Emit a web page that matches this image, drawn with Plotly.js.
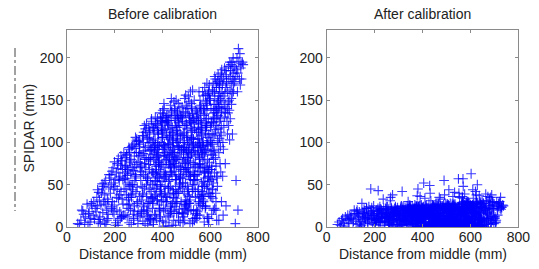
<!DOCTYPE html>
<html><head><meta charset="utf-8">
<script src="https://cdn.plot.ly/plotly-3.0.1.min.js"></script>
<style>html,body{margin:0;padding:0;background:#fff}#chart{width:539px;height:269px}</style>
</head><body><div id="chart"></div>
<script>
// Distance from middle (mm) of each sample (shared by both panels)
const distance = [
45,62,78,93,105,58,88,112,70,100,
118,52,84,96,110,66,115,74,102,90,
125,138,152,166,178,131,145,160,172,128,
142,156,169,135,149,163,176,122,158,147,
133,171,127,154,140,175,162,136,150,167,
184,197,211,226,238,190,204,219,232,186,
201,215,229,193,208,222,235,182,213,226,
195,209,224,239,188,203,217,231,199,236,
207,220,185,228,192,214,234,198,223,210,
243,258,271,286,298,249,264,279,292,255,
268,283,246,261,276,290,252,267,281,296,
247,262,277,291,254,269,284,299,259,273,
288,244,257,272,285,250,265,280,294,241,
263,278,293,248,260,275,289,253,270,282,
297,256,266,287,245,274,295,251,283,261,
304,318,331,345,358,310,324,337,351,307,
321,335,348,302,315,328,342,355,312,339,
326,341,353,308,320,333,347,359,316,330,
344,305,319,332,346,357,313,327,340,352,
309,323,336,350,303,317,329,343,356,322,
338,311,325,349,301,334,354,314,346,329,
306,336,318,343,357,324,311,348,333,319,
364,378,391,405,418,370,384,397,411,367,
381,395,408,362,375,388,402,415,372,399,
386,401,413,368,380,393,407,419,376,390,
404,365,379,392,406,417,373,387,400,412,
369,383,396,410,363,377,389,403,416,382,
398,371,385,409,361,394,414,374,406,389,
366,396,378,403,417,384,371,408,393,379,
411,387,363,399,375,414,392,368,405,381,
374,401,386,365,410,395,380,416,370,398,
424,438,451,465,478,430,444,457,471,427,
441,455,468,422,435,448,462,475,432,459,
446,461,473,428,440,453,467,479,436,450,
464,425,439,452,466,477,433,447,460,472,
429,443,456,470,423,437,449,463,476,442,
458,431,445,469,421,454,474,434,466,449,
426,456,438,463,477,444,431,468,453,439,
471,447,423,459,435,474,452,428,465,441,
434,461,446,425,470,455,440,476,430,458,
448,436,462,427,473,443,457,433,467,451,
484,498,511,525,538,490,504,517,531,487,
501,515,528,482,495,508,522,535,492,519,
506,521,533,488,500,513,527,539,496,510,
524,485,499,512,526,537,493,507,520,532,
489,503,516,530,483,497,509,523,536,502,
518,491,505,529,481,514,534,494,526,509,
486,516,498,523,537,504,491,528,513,499,
531,507,483,519,495,534,512,488,525,501,
494,521,506,485,530,515,500,536,490,518,
508,496,522,487,533,503,517,493,527,511,
544,558,571,585,598,550,564,577,591,547,
561,575,588,542,555,568,582,595,552,579,
566,581,593,548,560,573,587,599,556,570,
584,545,559,572,586,597,553,567,580,592,
549,563,576,590,543,557,569,583,596,562,
578,551,565,589,541,574,594,554,586,569,
546,576,558,583,597,564,551,588,573,559,
591,567,543,579,555,594,572,548,585,561,
554,581,566,545,590,575,560,596,550,578,
568,556,582,547,593,563,577,553,587,571,
603,614,626,638,648,608,620,632,643,606,
617,629,640,602,612,624,635,646,610,631,
622,634,645,605,616,627,639,649,613,625,
637,604,615,628,641,647,611,623,633,644,
607,619,630,642,601,613,626,636,648,618,
632,609,621,644,601,627,646,612,638,624,
604,633,616,641,649,622,609,643,630,615,
645,625,603,636,614,647,628,607,640,619,
654,668,681,695,659,673,686,662,677,691,
671,685,698,652,665,679,693,657,683,667,
676,690,656,664,688,699,653,670,682,661,
694,658,672,687,651,666,680,697,663,675,
660,684,669,692,655,678,696,674,689,666,
703,718,729,708,722,735,712,726,705,715,
720,731,702,710,724,738,714,728,707,716,
336,351,369,383,401,414,432,446,464,478,
496,509,528,544,558,576,590,606,341,359,
373,392,405,423,437,455,469,487,503,517,
533,551,565,583,597,613,348,362,381,394,
412,426,444,458,476,490,508,522,540,554,
572,586,604,618,356,370,388,402,420,434,
452,466,484,498,516,530,548,562,580,594,
610,333,347,365,379,397,411,429,443,461,
475,493,507,525,539,557,571,589,603,621,
339,361,387,409,435,457,483,505,531,553,
579,601,627,344,370,392,418,440,466,488,
514,536,562,584,608,634,352,378,400,426,
448,474,496,522,544,570,592,616,640,360,
386,408,434,456,482,504,530,552,578,600,
624,216,244,276,304,231,259,291,201,321,
158,187,214,243,268,297,322,349,377,404,
433,459,486,512,539,567,593,618,172,229,
281,338,393,447,501,556,611,263,318,372,
427,482,537,589,196,251,306,361,416,471,
526,581,636,654,221,289,356,423,491,548
];

// SPIDAR error (mm) before calibration
const errorBefore = [
4,20,12,18,25,8,3,30,15,10,
22,3,27,6,14,19,9,5,28,16,
35,12,48,20,58,6,40,27,15,44,
26,52,33,9,45,3,62,18,38,51,
41,10,25,30,4,47,55,32,17,8,
62,15,75,42,88,30,5,55,68,22,
48,81,12,70,35,60,27,40,8,84,
52,20,73,45,66,2,58,33,77,14,
64,38,50,79,18,69,56,26,10,44,
72,35,95,60,18,85,48,8,104,66,
80,25,57,92,40,74,12,63,98,30,
45,78,15,88,68,3,55,101,32,70,
62,82,22,50,93,38,76,10,47,58,
88,67,28,73,5,96,42,61,35,84,
77,52,20,106,64,44,14,86,71,27,
95,40,112,68,22,85,120,55,8,76,
62,104,30,88,48,116,74,92,18,58,
80,12,125,66,100,36,90,50,108,70,
44,98,26,82,110,64,72,4,96,35,
55,90,14,78,102,38,60,118,86,24,
106,32,75,52,84,20,128,65,10,94,
70,58,108,28,100,46,16,82,122,87,
112,60,135,85,30,98,72,125,48,15,
88,118,40,102,66,8,130,78,55,92,
26,110,62,94,120,74,140,35,82,50,
96,45,128,12,70,108,86,58,124,22,
104,76,38,115,64,92,18,134,80,110,
54,122,68,88,28,100,5,72,146,40,
90,116,50,32,126,84,62,98,42,114,
66,20,80,106,10,94,126,36,58,100,
46,138,78,118,84,30,96,60,74,112,
120,65,140,95,30,108,78,150,50,12,
88,126,42,104,70,18,132,58,96,114,
35,100,142,82,62,120,8,92,130,75,
110,54,86,24,128,68,144,40,102,120,
76,112,60,96,14,152,84,136,48,28,
118,38,100,72,124,56,6,90,146,66,
98,80,20,108,130,44,116,62,34,138,
52,94,122,16,74,110,128,86,40,104,
64,134,78,46,92,2,118,70,106,56,
148,26,84,132,58,102,72,18,124,88,
125,70,148,96,35,110,82,160,55,15,
92,130,45,108,75,20,140,62,100,118,
38,104,150,86,65,126,10,96,136,78,
114,58,90,28,134,72,152,44,106,122,
80,116,64,98,16,156,88,142,50,30,
124,40,102,76,128,60,8,94,162,70,
100,84,24,112,138,48,120,66,36,144,
56,98,130,20,78,116,132,90,42,108,
68,146,82,52,94,4,122,74,112,60,
154,32,88,136,62,106,76,22,128,92,
130,75,155,100,40,115,88,165,60,18,
96,138,50,112,80,25,148,68,104,124,
42,110,158,90,70,132,12,102,142,84,
120,62,94,30,140,76,160,48,114,128,
86,122,66,106,20,150,92,146,54,34,
134,44,108,80,126,64,10,98,170,72,
104,88,28,118,152,52,128,70,38,144,
58,100,136,22,82,162,140,94,46,116,
74,156,86,56,98,6,126,168,118,64,
160,36,92,134,66,110,78,26,144,96,
140,80,165,125,178,45,110,150,95,15,
130,60,158,100,170,30,142,120,85,172,
115,148,182,68,135,8,105,160,52,128,
168,122,92,145,75,136,160,40,180,112,
72,155,102,152,118,20,138,88,186,64,
132,98,175,65,150,58,108,128,165,20,
36,116,145,174,140,82,162,128,48,108,
150,170,90,100,124,30,135,56,142,178,
155,172,103,188,130,160,178,145,120,195,
140,185,170,60,165,150,110,118,162,180,
190,168,176,135,152,182,100,125,195,158,
175,142,110,192,168,185,138,160,75,148,
188,128,170,158,92,175,200,135,145,25,
190,211,193,55,175,195,200,168,4,182,
196,175,172,186,205,192,160,188,178,20,
18,92,54,110,7,130,72,40,118,88,
26,62,104,14,136,48,96,124,80,34,
122,64,20,98,136,44,82,12,140,56,
90,30,118,70,150,138,100,6,58,128,
36,74,110,28,60,94,42,124,16,100,
54,120,86,160,66,130,22,114,84,48,
138,16,76,120,32,104,70,140,24,110,
44,50,114,94,32,74,124,56,92,30,
104,8,134,50,84,112,32,156,100,140,
28,116,96,60,112,80,46,18,128,66,
90,60,120,104,14,48,132,2,96,66,
100,60,38,128,110,155,42,84,106,126,
70,132,52,86,10,102,40,90,170,118,
76,92,24,104,142,70,20,124,58,36,
72,34,70,50,36,78,94,102,56,112,
6,24,2,14,38,4,20,9,32,1,
16,40,5,28,11,36,3,22,30,12,
19,2,44,8,26,14,34,50,7,38,
1,17,42,10,45,26,12,3,30,21,
6,25,8,14,18,58,34,46,27,42
];

// SPIDAR error (mm) after calibration
const errorAfter = [
3,8,12,5,10,2,14,7,4,11,
16,6,9,13,4,10,20,1,15,8,
18,5,12,22,8,14,2,19,11,16,
7,21,13,3,17,10,24,9,15,28,
12,6,20,16,1,14,9,18,11,22,
45,10,18,5,22,14,8,20,12,16,
3,43,15,19,9,24,6,17,11,21,
13,20,7,16,23,2,18,10,14,33,
8,15,19,12,4,22,17,9,21,13,
14,6,21,18,10,24,3,16,20,12,
9,17,22,5,13,19,11,35,8,23,
16,4,20,12,24,7,18,14,21,10,
22,11,15,2,19,13,31,8,17,6,
12,18,9,21,15,38,5,17,23,14,
20,8,13,24,11,16,3,19,22,10,
15,22,6,18,12,24,9,20,14,3,
19,11,23,16,42,8,21,13,25,17,
7,20,14,22,10,18,26,5,16,12,
24,13,19,9,21,15,2,23,30,17,
11,18,25,14,6,20,16,22,10,13,
21,9,17,24,15,12,19,4,23,16,
14,22,8,18,25,11,20,15,6,24,
18,25,10,52,14,21,7,23,16,12,
45,13,20,17,24,9,19,26,4,22,
15,23,11,19,8,25,14,21,18,36,
24,12,20,6,22,16,25,10,19,14,
9,21,17,34,13,23,3,20,15,24,
19,11,24,16,22,8,25,18,12,21,
22,15,37,10,18,24,13,20,5,17,
14,25,19,23,12,21,8,26,16,20,
24,17,11,22,19,26,14,2,21,15,
20,6,13,24,3,49,10,22,1,15,
23,8,2,18,31,14,5,19,40,12,
16,25,4,11,21,0,27,6,20,9,
26,3,14,24,9,17,1,25,13,7,
11,24,2,35,21,15,5,4,19,26,
8,19,25,13,1,8,21,4,16,23,
18,27,12,3,25,6,15,24,10,0,
2,16,23,7,20,33,19,1,14,22,
21,13,4,18,9,22,11,25,2,17,
5,20,15,27,12,1,26,19,8,3,
22,2,14,25,6,55,12,0,26,17,
4,10,23,20,28,1,16,21,38,14,
18,7,24,13,2,21,36,8,22,44,
27,16,3,25,11,24,0,20,15,5,
13,25,19,1,23,9,24,6,21,27,
3,21,27,15,10,10,23,2,18,25,
20,28,5,24,1,22,17,8,12,23,
27,4,25,12,9,41,0,26,16,6,
23,15,2,20,25,7,13,27,1,19,
26,9,17,3,14,25,1,21,11,4,
24,5,16,27,1,57,14,8,28,19,
2,12,25,7,35,18,0,23,40,16,
20,28,4,15,9,23,30,10,1,48,
29,18,6,27,13,2,22,34,17,25,
15,3,21,30,8,19,1,11,23,6,
26,0,29,17,5,12,25,3,20,57,
9,39,16,1,28,24,4,27,14,7,
29,2,20,11,24,6,30,13,18,0,
5,17,36,22,1,26,15,9,24,3,
28,10,19,2,16,27,7,23,0,6,
63,4,28,18,8,12,1,22,29,16,
3,50,20,25,34,14,6,23,44,0,
22,9,26,10,2,24,30,5,18,38,
37,1,27,14,16,7,19,29,3,26,
25,11,4,27,22,0,14,8,24,18,
6,23,42,2,26,17,10,25,1,27,
19,5,24,12,31,3,26,9,28,16,
2,30,13,8,21,24,0,20,11,5,
28,6,18,22,3,36,12,20,9,25,
15,35,4,24,10,22,8,1,26,31,
25,14,20,39,5,27,2,17,11,22,
30,7,16,22,1,19,32,12,21,4,
23,3,10,29,14,30,21,8,38,0,
12,28,24,8,30,26,20,35,5,25,
27,23,10,29,22,25,14,21,6,24,
3,12,7,18,1,9,14,5,11,2,
8,16,4,12,1,20,6,10,2,13,
5,9,15,2,11,7,19,4,13,1,
10,3,17,6,22,9,4,14,8,1,
12,2,6,16,4,9,1,13,7,19,
3,11,15,7,9,1,12,5,17,2,
6,14,3,10,18,1,8,21,4,12,
2,8,4,15,1,11,6,3,13,9,
14,5,1,11,7,3,16,9,2,12,
6,3,10,1,14,8,4,12,2,7,
1,5,13,9,4,16,2,11,6,3,
9,2,14,5,10,18,7,1,12,4,
3,10,6,1,15,4,8,2,11,5,
12,4,9,2,6,13,3,16,1,7,
15,6,11,3,8,13,2,9,5,10,
4,11,16,2,19,7,13,21,1,10,
18,5,23,12,3,26,9,15,6,20,
1,17,8,24,4,13,20,10,2,22,
14,3,19,7,25,11,1,16,23,5,
21,9,17,28,6,14,3,18,8,2
];

const panelTitles = ['Before calibration', 'After calibration'];
const xTickVals = [0, 200, 400, 600, 800];
const yTickVals = [0, 50, 100, 150, 200];
const xLabel = 'Distance from middle (mm)';
const yLabel = 'SPIDAR (mm)';

const W = 539, H = 269;
const FONT = 'Liberation Sans, Arial, Helvetica, sans-serif';
const TXT = {family: FONT, size: 14, color: '#222'};

const marker = {
  symbol: 'cross-thin',
  size: 7,
  color: 'rgb(0,0,255)',
  line: {color: 'rgba(0,0,255,0.78)', width: 1.1}
};

const traces = [
  {type: 'scatter', mode: 'markers', x: distance, y: errorBefore, xaxis: 'x', yaxis: 'y', marker: marker, hoverinfo: 'skip'},
  {type: 'scatter', mode: 'markers', x: distance, y: errorAfter, xaxis: 'x2', yaxis: 'y2', marker: marker, hoverinfo: 'skip'}
];

function axis(extra) {
  return Object.assign({
    showline: true, mirror: 'ticks', linecolor: '#8a8a8a', linewidth: 1,
    ticks: 'inside', ticklen: 3, tickcolor: '#8a8a8a', tickwidth: 1,
    showgrid: false, zeroline: false,
    tickfont: TXT
  }, extra);
}

const px = v => v / W, py = v => (H - v) / H;
const L1 = [67, 258], L2 = [326.7, 518.3];

function label(text, x, y, angle) {
  return {text: text, xref: 'paper', yref: 'paper', x: x, y: y, xanchor: 'center', yanchor: 'middle',
          showarrow: false, textangle: angle || 0, font: TXT};
}

const layout = {
  width: W, height: H,
  margin: {l: 0, r: 0, t: 0, b: 0},
  paper_bgcolor: '#fff', plot_bgcolor: '#fff',
  showlegend: false,
  font: TXT,
  xaxis: axis({domain: [px(L1[0]), px(L1[1])], range: [0, 800], tickvals: xTickVals, anchor: 'y', ticklabelstandoff: -3}),
  yaxis: axis({domain: [py(227), py(30)], range: [0, 233], tickvals: yTickVals, anchor: 'x'}),
  xaxis2: axis({domain: [px(L2[0]), px(L2[1])], range: [0, 800], tickvals: xTickVals, anchor: 'y2', ticklabelstandoff: -3}),
  yaxis2: axis({domain: [py(227), py(30)], range: [0, 233], tickvals: yTickVals, anchor: 'x2'}),
  annotations: [
    label(panelTitles[0], px((L1[0] + L1[1]) / 2), py(14)),
    label(panelTitles[1], px((L2[0] + L2[1]) / 2), py(14)),
    label(xLabel, px((L1[0] + L1[1]) / 2), py(254)),
    label(xLabel, px((L2[0] + L2[1]) / 2), py(254)),
    label(yLabel, px(28), py(128.5), -90)
  ],
  shapes: [
    {type: 'line', xref: 'paper', yref: 'paper', x0: px(15), x1: px(15), y0: py(48), y1: py(211),
     line: {color: '#444', width: 1, dash: 'dashdot'}}
  ]
};

Plotly.newPlot('chart', traces, layout, {staticPlot: true, displayModeBar: false});
</script>
</body></html>
